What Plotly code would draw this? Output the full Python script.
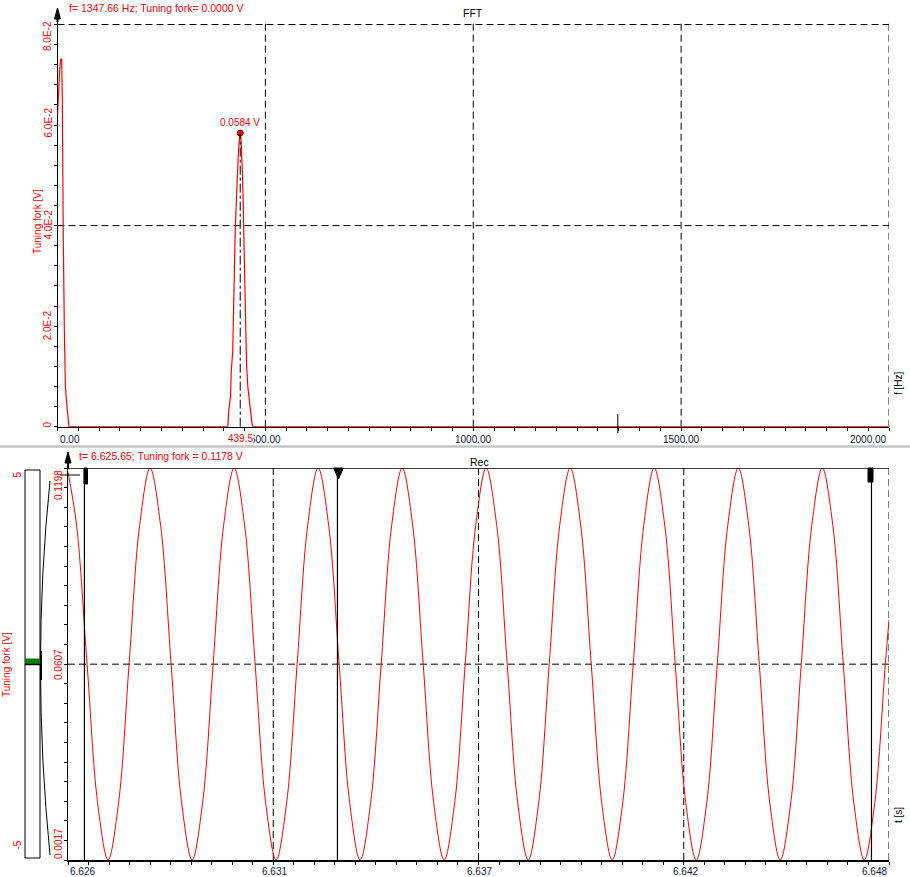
import plotly.graph_objects as go

# ---------------- data ----------------
# FFT spectrum (Hz, V)
fft_freq = [0.0, 1.5, 3.5, 5.5, 7.5, 10.0, 11.5, 12.5, 14.0, 16.5, 19.0, 22.0, 25.5, 27.5,
            409.6, 412.0, 416.1, 417.7, 421.6, 422.6, 424.0, 426.4, 428.1, 430.5, 432.2,
            434.6, 437.0, 439.5, 441.8, 443.3, 444.9, 446.6, 448.1, 449.8, 451.4, 452.9,
            454.6, 457.7, 462.5, 468.3, 470.7, 2000.0]
fft_amp = [0.0620, 0.0650, 0.0690, 0.0712, 0.0730, 0.0732, 0.0655, 0.0500, 0.0365, 0.0192,
           0.0079, 0.0047, 0.0020, 0.0,
           0.0, 0.0033, 0.0060, 0.0107, 0.0153, 0.0212, 0.0279, 0.0352, 0.0405, 0.0458, 0.0505,
           0.0537, 0.0567, 0.0584, 0.0566, 0.0547, 0.0505, 0.0445, 0.0385, 0.0332, 0.0259, 0.0199,
           0.0127, 0.0080, 0.0040, 0.0003, 0.0, 0.0]
peak_freq = 439.5
peak_amp = 0.0584
cursor_freq = 1347.66

fft_xticks = [0, 500, 1000, 1500, 2000]
fft_xlabels = ["0.00", "500.00", "1000.00", "1500.00", "2000.00"]
fft_yticks = [0.0, 0.02, 0.04, 0.06, 0.08]
fft_ylabels = ["0", "2.0E-2", "4.0E-2", "6.0E-2", "8.0E-2"]

# Recorded signal: time offset (ms after 6.626 s) and voltage (V)
rec_t0 = 6.626
rec_t_ms = [0.000, 0.230, 0.511, 0.793, 1.074, 1.356, 1.637, 1.919, 2.200,
            2.481, 2.763, 3.044, 3.326, 3.607, 3.889, 4.170, 4.452,
            4.733, 5.014, 5.296, 5.577, 5.859, 6.140, 6.422, 6.703,
            6.985, 7.266, 7.547, 7.829, 8.110, 8.392, 8.673, 8.955,
            9.236, 9.518, 9.799, 10.080, 10.362, 10.643, 10.925, 11.206,
            11.488, 11.769, 12.050, 12.332, 12.613, 12.895, 13.176, 13.458,
            13.739, 14.021, 14.302, 14.583, 14.865, 15.146, 15.428, 15.709,
            15.991, 16.272, 16.553, 16.835, 17.116, 17.398, 17.679, 17.961,
            18.242, 18.524, 18.805, 19.086, 19.368, 19.649, 19.931, 20.212,
            20.494, 20.775, 21.057, 21.338, 21.619, 21.901, 22.000]
rec_volts = [0.1185, 0.1025, 0.0607, 0.0190, 0.0017, 0.0190, 0.0607, 0.1025, 0.1198,
             0.1025, 0.0607, 0.0190, 0.0017, 0.0190, 0.0607, 0.1025, 0.1198,
             0.1025, 0.0607, 0.0190, 0.0017, 0.0190, 0.0607, 0.1025, 0.1198,
             0.1025, 0.0607, 0.0190, 0.0017, 0.0190, 0.0607, 0.1025, 0.1198,
             0.1025, 0.0607, 0.0190, 0.0017, 0.0190, 0.0607, 0.1025, 0.1198,
             0.1025, 0.0607, 0.0190, 0.0017, 0.0190, 0.0607, 0.1025, 0.1198,
             0.1025, 0.0607, 0.0190, 0.0017, 0.0190, 0.0607, 0.1025, 0.1198,
             0.1025, 0.0607, 0.0190, 0.0017, 0.0190, 0.0607, 0.1025, 0.1198,
             0.1025, 0.0607, 0.0190, 0.0017, 0.0190, 0.0607, 0.1025, 0.1198,
             0.1025, 0.0607, 0.0190, 0.0017, 0.0190, 0.0607, 0.0740]
rec_xticks = [6.626, 6.6315, 6.637, 6.6425, 6.648]
rec_xlabels = ["6.626", "6.631", "6.637", "6.642", "6.648"]
rec_ylabels = ["0.1198", "0.0607", "0.0017"]
rec_yvals = [0.1198, 0.0607, 0.0017]
rec_cursors = [6.62644, 6.63322, 6.64753]

# ---------------- layout helpers ----------------
W, H = 910, 877
def PX(x): return x / W
def PY(y): return 1 - y / H

RED = "#ff0000"
TICKC = "#101838"
FONT = "Liberation Sans, Arial, sans-serif"
FS = 10

fig = go.Figure()
rec_x = [rec_t0 + t / 1000.0 for t in rec_t_ms]

fig.add_trace(go.Scatter(x=fft_freq, y=fft_amp, mode="lines",
                         line=dict(color=RED, width=1.2), xaxis="x", yaxis="y",
                         hoverinfo="skip"))
fig.add_trace(go.Scatter(x=[peak_freq], y=[peak_amp], mode="markers",
                         marker=dict(color=RED, size=6, line=dict(color="#800000", width=1)),
                         xaxis="x", yaxis="y", hoverinfo="skip"))
fig.add_trace(go.Scatter(x=rec_x, y=rec_volts, mode="lines",
                         line=dict(color=RED, width=1, shape="spline", smoothing=1.0),
                         xaxis="x2", yaxis="y2", hoverinfo="skip"))

shapes = []
def pline(x0, y0, x1, y1, color="black", width=1, dash="solid"):
    shapes.append(dict(type="line", xref="paper", yref="paper",
                       x0=PX(x0), y0=PY(y0), x1=PX(x1), y1=PY(y1),
                       line=dict(color=color, width=width, dash=dash)))
def prect(x0, y0, x1, y1, fill="black", lc="black", lw=1):
    shapes.append(dict(type="rect", xref="paper", yref="paper",
                       x0=PX(x0), y0=PY(y0), x1=PX(x1), y1=PY(y1),
                       fillcolor=fill, line=dict(color=lc, width=lw)))
def ppath(pts, fill="black", lc="black", lw=1, close=True):
    d = "M " + " L ".join(f"{PX(x):.5f},{PY(y):.5f}" for x, y in pts)
    if close:
        d += " Z"
    shapes.append(dict(type="path", xref="paper", yref="paper", path=d,
                       fillcolor=fill, line=dict(color=lc, width=lw)))

DASH = "7px,4px"
# top plot grid
for v in fft_xticks[1:]:
    shapes.append(dict(type="line", xref="x", yref="y domain", x0=v, x1=v, y0=0, y1=1,
                       line=dict(color="black", width=1, dash=DASH), layer="below"))
for v in [0.04, 0.08]:
    shapes.append(dict(type="line", xref="x domain", yref="y", x0=0, x1=1, y0=v, y1=v,
                       line=dict(color="black", width=1, dash=DASH), layer="below"))
# peak dash-dot
shapes.append(dict(type="line", xref="x", yref="y", x0=peak_freq, x1=peak_freq,
                   y0=0, y1=peak_amp, line=dict(color="black", width=1, dash="dashdot")))
# cursor mark on FFT axis
shapes.append(dict(type="line", xref="x", yref="paper", x0=cursor_freq, x1=cursor_freq,
                   y0=PY(433), y1=PY(414), line=dict(color="black", width=1)))

# bottom plot grid
for v in rec_xticks[1:]:
    shapes.append(dict(type="line", xref="x2", yref="y2 domain", x0=v, x1=v, y0=0, y1=1,
                       line=dict(color="black", width=1, dash=DASH), layer="below"))
shapes.append(dict(type="line", xref="x2 domain", yref="y2", x0=0, x1=1, y0=0.0607, y1=0.0607,
                   line=dict(color="black", width=1, dash=DASH), layer="below"))
shapes.append(dict(type="line", xref="x2 domain", yref="y2", x0=0, x1=1, y0=0.1198, y1=0.1198,
                   line=dict(color="black", width=1.5)))
# cursors
for c in rec_cursors:
    shapes.append(dict(type="line", xref="x2", yref="y2 domain", x0=c, x1=c, y0=0, y1=1,
                       line=dict(color="black", width=1.2)))
prect(84, 468, 87.5, 484)
prect(868, 468, 873, 482)
ppath([(333.5, 468), (343.5, 468), (338.5, 479)])
pline(60, 475, 80, 475, width=1)

# separator
pline(0, 446.5, W, 446.5, color="#c4c4c4", width=2.5)

# arrows on y axes
ppath([(54.5, 19), (57.5, 8), (60.5, 19)])
pline(57.5, 19, 57.5, 22, width=2)
ppath([(65, 463), (68, 452), (71, 463)])
pline(68, 462, 68, 469, width=2)

# left level strip
prect(25, 470, 40, 858, fill="white", lc="black", lw=1)
prect(25, 658.5, 40, 664, fill="#0c7a0c", lc="#0c7a0c", lw=0)
pline(25, 664.5, 41, 664.5, width=1.5)
qp = (f"M {PX(50):.5f},{PY(481):.5f} Q {PX(31):.5f},{PY(664):.5f} "
      f"{PX(50):.5f},{PY(855):.5f}")
shapes.append(dict(type="path", xref="paper", yref="paper", path=qp,
                   line=dict(color="black", width=1)))
pline(41, 651, 41, 680, width=2)

annotations = []
def ann(x, y, text, color="black", size=FS, angle=0, xanchor="center", yanchor="middle", bg=None):
    a = dict(x=PX(x), y=PY(y), xref="paper", yref="paper", text=text, showarrow=False,
             font=dict(family=FONT, size=size, color=color), textangle=angle,
             xanchor=xanchor, yanchor=yanchor)
    if bg:
        a["bgcolor"] = bg
        a["borderpad"] = 0
    annotations.append(a)

# headers
ann(67, 8, "f= 1347.66 Hz; Tuning fork= 0.0000 V", RED, size=10.5, xanchor="left")
ann(473, 13, "FFT", "black", size=10.5)
ann(77, 456, "t= 6.625.65; Tuning fork = 0.1178 V", RED, size=10.5, xanchor="left")
ann(479, 462, "Rec", "black", size=10.5)

# top y tick labels
top_label_y = [425, 325.8, 225, 123, 36.5]
for lab, yy in zip(fft_ylabels, top_label_y):
    ann(47.5, yy, lab, RED, angle=-90)
ann(37, 222, "Tuning fork [V]", RED, angle=-90)

# top x tick labels
xpos = [57.5, 265, 473, 681, 889]
for i, (lab, xx) in enumerate(zip(fft_xlabels, xpos)):
    if i == 0:
        ann(xx, 439, lab, TICKC, xanchor="left")
    elif i == len(xpos) - 1:
        ann(xx, 439, lab, TICKC, xanchor="right")
    else:
        ann(xx, 439, lab, TICKC)
ann(240, 438, "439.5", RED, bg="white")
ann(240, 122, "0.0584 V", RED)
ann(898, 383, "f [Hz]", "black", angle=-90)

# bottom y tick labels
ann(58, 485, rec_ylabels[0], RED, angle=-90)
ann(58, 664, rec_ylabels[1], RED, angle=-90)
ann(58, 843, rec_ylabels[2], RED, angle=-90)
ann(16.5, 475, "5", RED, angle=-90)
ann(16.5, 845, "-5", RED, angle=-90)
ann(6, 665, "Tuning fork [V]", RED, angle=-90)

# bottom x tick labels
bpos = [68.5, 274, 479.5, 685, 889]
for i, (lab, xx) in enumerate(zip(rec_xlabels, bpos)):
    if i == 0:
        ann(xx - 1, 871, lab, TICKC, xanchor="left")
    elif i == len(bpos) - 1:
        ann(xx, 871, lab, TICKC, xanchor="right")
    else:
        ann(xx, 871, lab, TICKC)
ann(898, 815, "t [s]", "black", angle=-90)

common_axis = dict(showgrid=False, zeroline=False, showline=True, linecolor="black",
                   ticks="outside", ticklen=3, tickcolor="black", showticklabels=False,
                   layer="below traces")

fig.update_layout(
    width=W, height=H, margin=dict(l=0, r=0, t=0, b=0),
    paper_bgcolor="white", plot_bgcolor="white", showlegend=False,
    font=dict(family=FONT, size=FS),
    xaxis=dict(domain=[PX(57.5), PX(889)], range=[0, 2000], anchor="y",
               tickmode="linear", tick0=0, dtick=50, linewidth=1, **common_axis),
    yaxis=dict(domain=[PY(426.7), PY(21)], range=[0, 0.0807], anchor="x",
               tickmode="linear", tick0=0, dtick=0.004, linewidth=1, **common_axis),
    xaxis2=dict(domain=[PX(68), PX(889)], range=[6.626, 6.648], anchor="y2",
                tickmode="linear", tick0=6.626, dtick=0.00055, linewidth=2, **common_axis),
    yaxis2=dict(domain=[PY(860), PY(468)], range=[0.0017, 0.1198], anchor="x2",
                tickmode="linear", tick0=0.0017, dtick=0.005905, linewidth=1, **common_axis),
    shapes=shapes, annotations=annotations,
)

fig.write_html("out.html", config={"displayModeBar": False},
               post_script="document.body.style.margin='0px';document.body.style.overflow='hidden';")
